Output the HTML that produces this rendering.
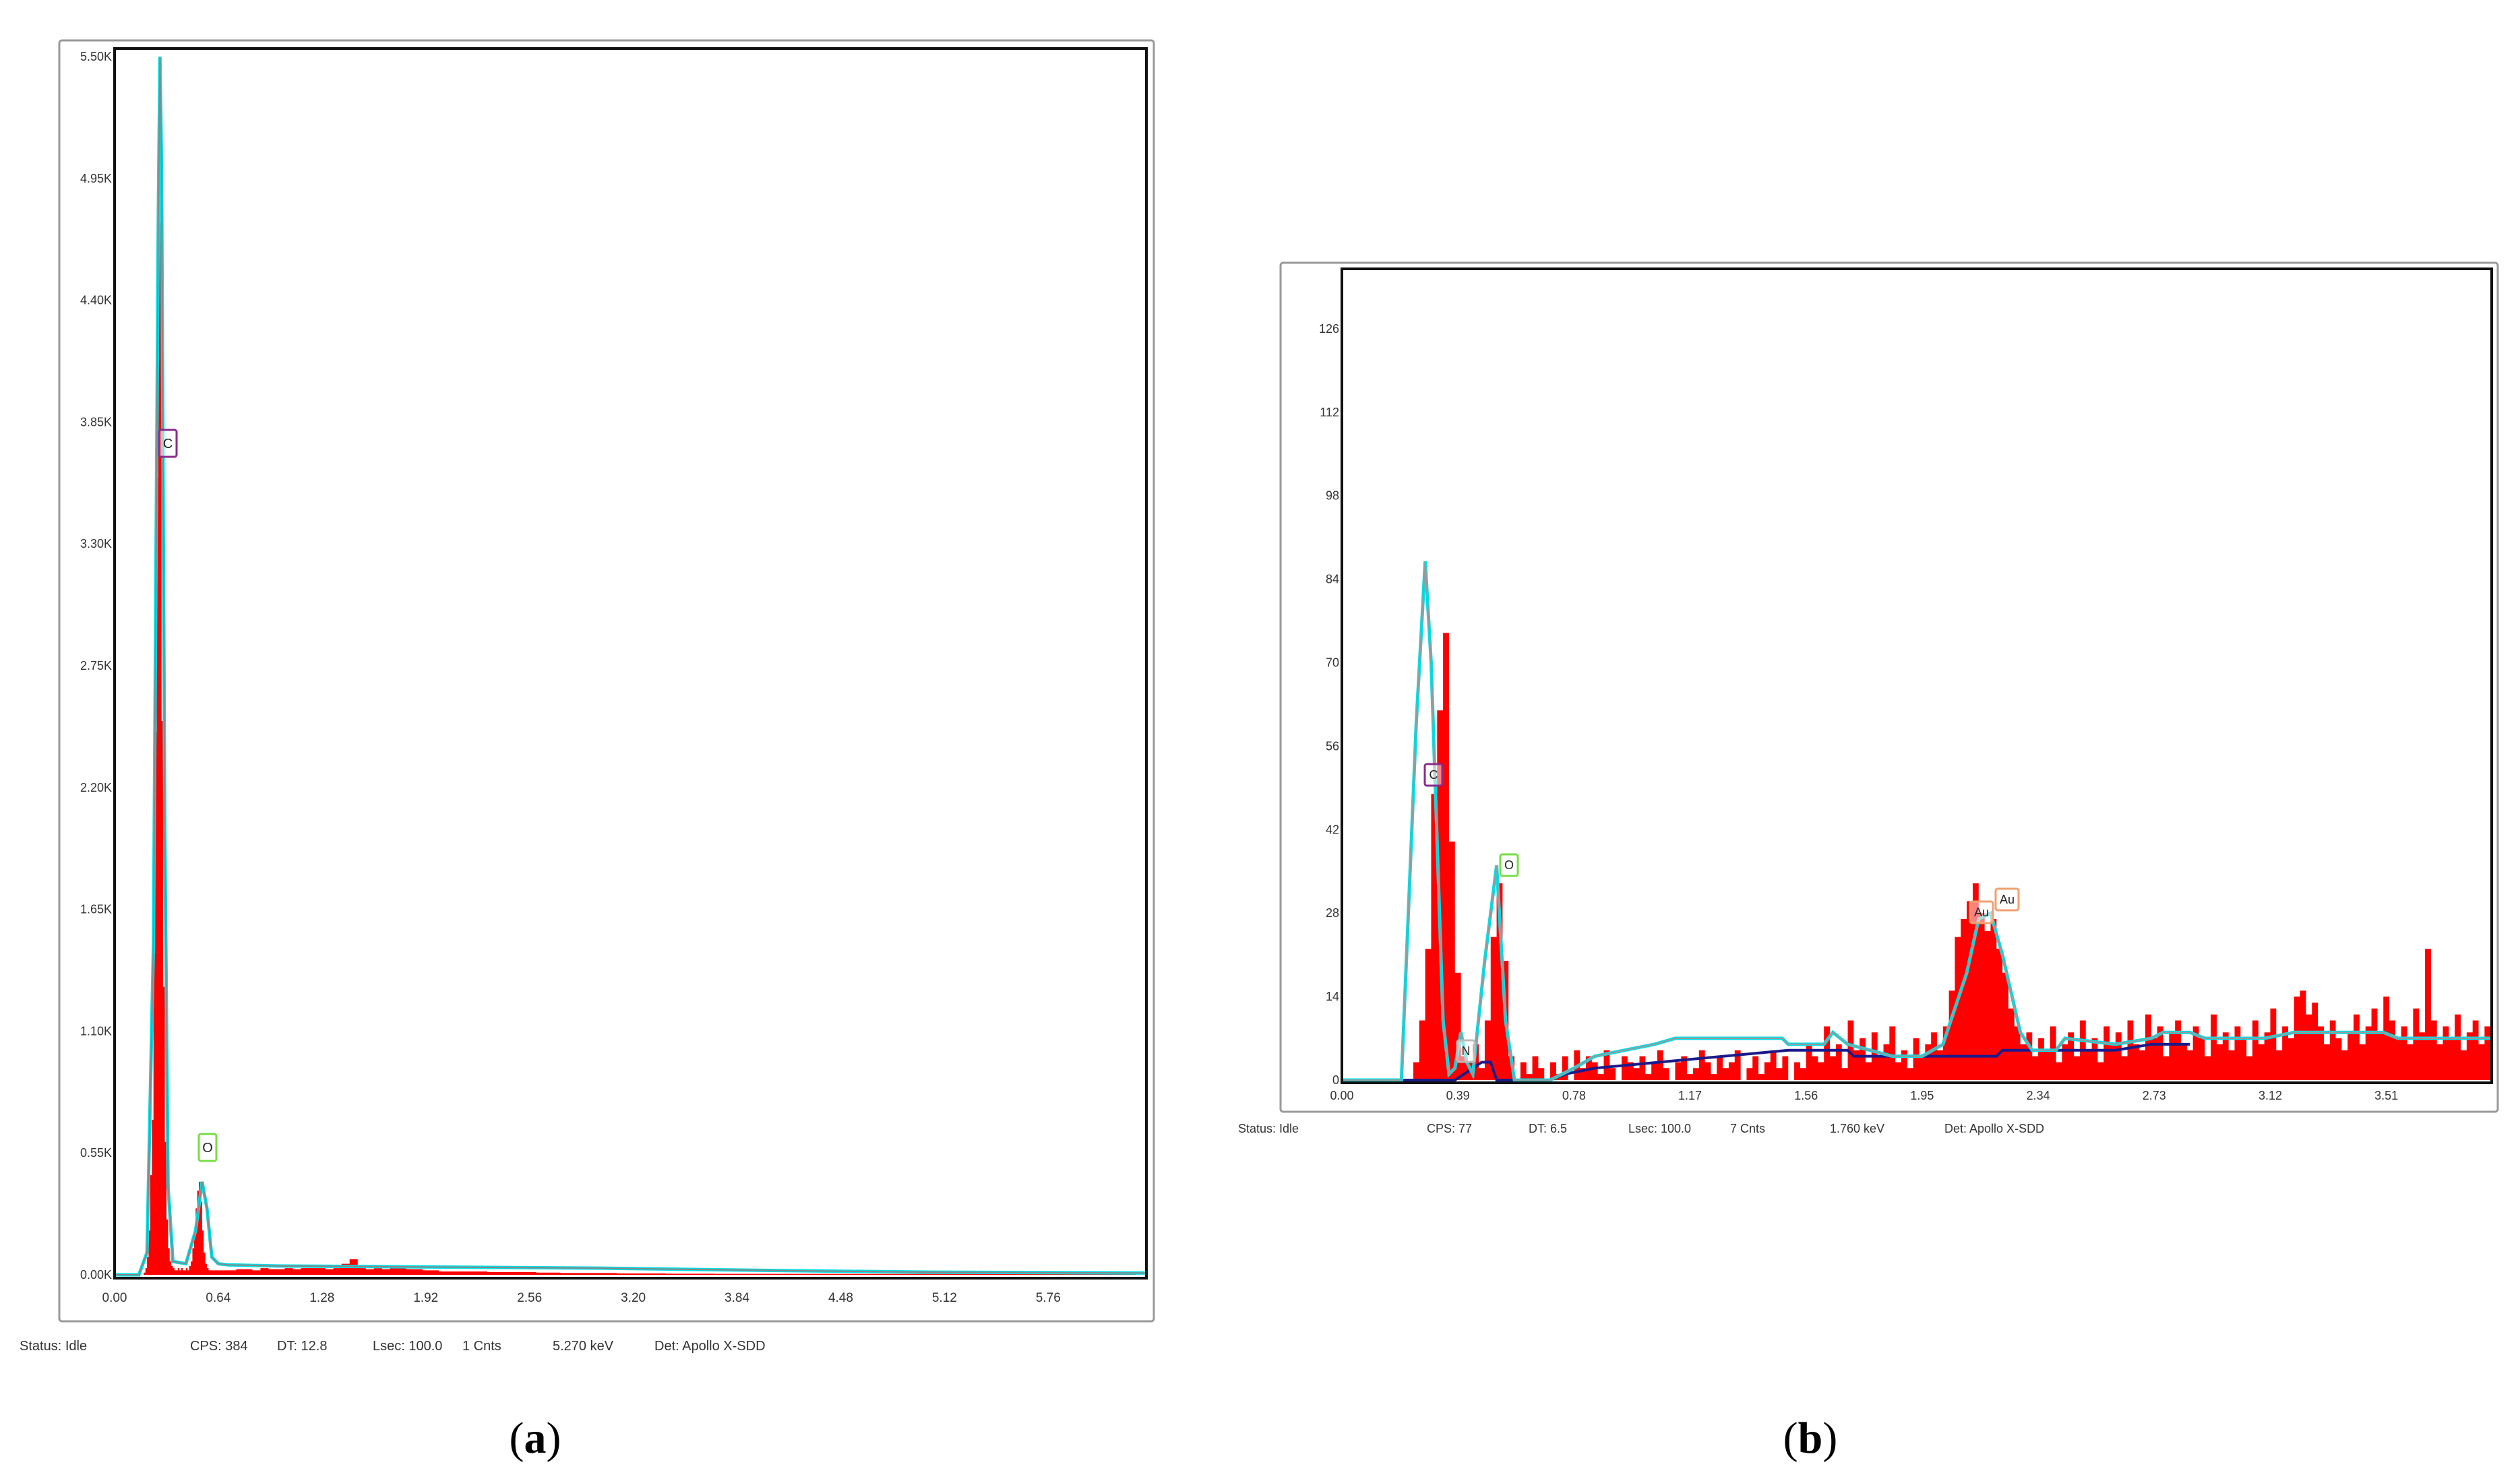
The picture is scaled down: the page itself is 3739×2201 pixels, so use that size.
<!DOCTYPE html>
<html><head><meta charset="utf-8">
<style>
html,body{margin:0;padding:0;background:#fff;}
body{width:3739px;height:2201px;overflow:hidden;position:relative;font-family:"Liberation Sans",sans-serif;}
svg{position:absolute;left:0;top:0;}
</style></head>
<body>
<svg id="chart" width="3739" height="2201" viewBox="0 0 3739 2201" xmlns="http://www.w3.org/2000/svg">
  <g id="panelA"></g>
  <g id="panelB"></g>
</svg>
<script>
// ---------- Panel A data ----------
const aTickY = ["0.00K","0.55K","1.10K","1.65K","2.20K","2.75K","3.30K","3.85K","4.40K","4.95K","5.50K"];
const aTickX = ["0.00","0.64","1.28","1.92","2.56","3.20","3.84","4.48","5.12","5.76"];
// red counts (K) from 0.18 keV, step 0.01
const aPeakStart = 0.18;
const aPeakCounts = [0.01,0.03,0.08,0.2,0.45,0.7,1.45,2.45,3.6,5.0,4.75,2.5,1.3,0.6,0.25,0.12,0.06,0.04,0.03,0.02,0.02,0.03,0.02,0.03,0.02,0.02,0.03,0.02,0.04,0.06,0.12,0.2,0.3,0.38,0.42,0.33,0.2,0.1,0.05,0.03,0.02,0.02];
// background red counts (K) from 0.60 keV, step 0.05
const aBgStart = 0.60;
const aBgCounts = [0.02,0.02,0.02,0.025,0.025,0.02,0.03,0.025,0.025,0.03,0.025,0.03,0.03,0.03,0.025,0.03,0.05,0.07,0.035,0.025,0.03,0.025,0.03,0.03,0.025,0.025,0.02,0.02,0.015,0.015,0.015,0.015,0.015,0.015,0.012,0.012,0.012,0.012,0.012,0.012,0.01,0.01,0.01,0.008,0.008,0.008,0.008,0.008,0.008,0.008,0.006,0.006,0.006,0.006,0.006,0.006,0.005,0.005,0.005,0.005,0.005,0.005,0.004,0.004,0.004,0.004,0.004,0.004,0.004,0.004,0.004,0.004,0.004,0.004,0.004,0.004,0.004,0.004,0.004,0.004,0.004,0.004,0.004,0.004,0.004,0.004,0.004,0.004,0.004,0.004,0.004,0.004,0.004,0.004,0.004,0.004,0.004,0.004,0.004,0.004,0.004,0.004,0.004,0.004,0.004,0.004,0.004,0.004,0.004,0.004,0.004,0.004,0.004,0.004];
const aFitE = [0,0.15,0.2,0.24,0.27,0.28,0.29,0.31,0.33,0.36,0.44,0.50,0.54,0.57,0.60,0.64,0.7,1.0,2.0,3.0,4.0,5.0,6.36];
const aFitK = [0,0,0.1,1.5,4.8,5.5,5.0,2.0,0.4,0.06,0.05,0.2,0.42,0.3,0.08,0.05,0.045,0.04,0.035,0.03,0.02,0.012,0.008];

// ---------- Panel B data ----------
const bTickY = ["0","14","28","42","56","70","84","98","112","126"];
const bTickX = ["0.00","0.39","0.78","1.17","1.56","1.95","2.34","2.73","3.12","3.51"];
const bStep = 0.02;
const bCounts = [
0,0,0,0,0,0,0,0,0,0,
0,0,3,10,22,48,62,75,40,18,
4,3,6,2,10,24,33,20,4,0,
3,1,4,2,0,3,1,4,0,5,
2,4,3,1,5,2,0,4,3,2,
4,1,3,5,2,0,3,4,1,2,
5,3,1,4,2,3,5,0,2,4,
1,3,5,2,4,0,3,2,6,4,
3,9,4,6,2,10,5,7,3,8,
4,6,9,3,5,2,7,4,6,8,
5,9,15,24,27,30,33,28,25,27,
22,18,12,9,6,8,4,7,5,9,
3,6,8,4,10,5,7,3,9,6,
8,4,10,6,5,11,7,9,4,8,
10,6,5,9,7,4,11,6,8,5,
9,7,4,10,6,8,12,5,9,7,
14,15,11,13,9,6,10,7,5,8,
11,6,9,12,8,14,10,7,9,6,
12,8,22,10,6,9,7,11,5,8,
10,6,9,8];
const bFitE = [0,0.2,0.25,0.28,0.30,0.34,0.36,0.38,0.40,0.42,0.44,0.48,0.52,0.55,0.58,0.70,0.78,0.85,0.95,1.05,1.12,1.48,1.50,1.62,1.65,1.70,1.85,1.95,2.02,2.10,2.14,2.18,2.22,2.28,2.32,2.40,2.43,2.60,2.72,2.76,2.85,2.90,3.10,3.20,3.50,3.55,3.86];
const bFitV = [0,0,60,87,70,10,1,2,8,3,1,20,36,10,0,0,2,4,5,6,7,7,6,6,8,6,4,4,6,18,27,28,21,8,5,5,7,6,7,8,8,7,7,8,8,7,7];
const bBgE = [0,0.38,0.44,0.47,0.50,0.52,0.70,0.75,0.85,1.5,1.52,1.70,1.72,2.00,2.20,2.22,2.60,2.72,2.85];
const bBgV = [0,0,2,3,3,0,0,1,2,5,5,5,4,4,4,5,5,6,6];

const NS="http://www.w3.org/2000/svg";
function mk(tag,attrs,parent){const e=document.createElementNS(NS,tag);for(const k in attrs)e.setAttribute(k,attrs[k]);parent.appendChild(e);return e;}

// ===== Panel A =====
(function(){
const g=document.getElementById('panelA');
const L=170,T=72,R=1701,B=1897;
const xA=e=>170+e*240.5;
const yA=k=>1892-k/0.55*180.8;
let f=mk('rect',{x:88,y:60,width:1624,height:1901,fill:'#fff',stroke:'#999',"stroke-width":3,rx:4},g);

const clip=mk('clipPath',{id:'clipA'},g);mk('rect',{x:L,y:T,width:R-L,height:B-T},clip);
const plot=mk('g',{'clip-path':'url(#clipA)'},g);

let d='';
aPeakCounts.forEach((v,i)=>{const e=aPeakStart+i*0.01;const x0=xA(e),x1=xA(e+0.01);d+=`M${x0},${yA(0)}V${yA(v)}H${x1}V${yA(0)}Z`;});
aBgCounts.forEach((v,i)=>{const e=aBgStart+i*0.05;const x0=xA(e),x1=xA(e+0.05);d+=`M${x0},${yA(0)}V${yA(v)}H${x1}V${yA(0)}Z`;});
let red=mk('path',{d:d,fill:'#f00'},plot);

let pts=aFitE.map((e,i)=>xA(e)+','+yA(aFitK[i])).join(' ');
let fit=mk('polyline',{points:pts,fill:'none',stroke:'#00e0e8','stroke-width':5},plot);

let gl=mk('polyline',{points:pts,fill:'none',stroke:'#888','stroke-width':2},plot);

mk('rect',{x:L,y:T,width:R-L,height:B-T,fill:'none',stroke:'#111','stroke-width':4},g);
aTickY.forEach((t,i)=>{const y=yA(i*0.55);const tx=mk('text',{x:L-4,y:y+6,'text-anchor':'end','font-size':18,fill:'#333'},g);tx.textContent=t;
});
aTickX.forEach((t,i)=>{const x=xA(i*0.64);const tx=mk('text',{x:x,y:1932,'text-anchor':'middle','font-size':19,fill:'#333'},g);tx.textContent=t;
});
const labs=[["C",249,658,'#8a2a8a'],["O",308,1703,'#77dd44']];
labs.forEach(l=>{const r=mk('rect',{x:l[1]-13,y:l[2]-20,width:26,height:40,fill:'#fff','fill-opacity':0.5,stroke:l[3],'stroke-width':3,rx:3},g);

const t=mk('text',{x:l[1],y:l[2]+7,'text-anchor':'middle','font-size':20,fill:'#222'},g);t.textContent=l[0];
});
const st=[["Status: Idle",29],["CPS: 384",282],["DT: 12.8",411],["Lsec: 100.0",553],["1 Cnts",686],["5.270 keV",820],["Det: Apollo X-SDD",971]];
st.forEach(s=>{const t=mk('text',{x:s[1],y:2004,'font-size':20,fill:'#333'},g);t.textContent=s[0];
});
const c=mk('text',{x:794,y:2156,'text-anchor':'middle','font-size':66,'font-family':'Liberation Serif, serif',fill:'#000'},g);
c.innerHTML='(<tspan font-weight="bold">a</tspan>)';

})();

// ===== Panel B =====
(function(){
const g=document.getElementById('panelB');
const L=1991,T=399,R=3697,B=1607;
const xB=e=>1991+e*441.5;
const yB=v=>1603-v/14*123.9;
let f=mk('rect',{x:1900,y:390,width:1806,height:1260,fill:'#fff',stroke:'#999',"stroke-width":3,rx:4},g);

const clip=mk('clipPath',{id:'clipB'},g);mk('rect',{x:L,y:T,width:R-L,height:B-T},clip);
const plot=mk('g',{'clip-path':'url(#clipB)'},g);

let d='';
bCounts.forEach((v,i)=>{const e=i*bStep;const x0=xB(e),x1=xB(e+bStep);d+=`M${x0},${yB(0)}V${yB(v)}H${x1}V${yB(0)}Z`;});
let red=mk('path',{d:d,fill:'#f00'},plot);

let bp=bBgE.map((e,i)=>xB(e)+','+yB(bBgV[i])).join(' ');
let bl=mk('polyline',{points:bp,fill:'none',stroke:'#1a1a8a','stroke-width':4},plot);

let pts=bFitE.map((e,i)=>xB(e)+','+yB(bFitV[i])).join(' ');
let fit=mk('polyline',{points:pts,fill:'none',stroke:'#00e0e8','stroke-width':5},plot);

let gl=mk('polyline',{points:pts,fill:'none',stroke:'#999','stroke-width':2},plot);

mk('rect',{x:L,y:T,width:R-L,height:B-T,fill:'none',stroke:'#111','stroke-width':4},g);
bTickY.forEach((t,i)=>{const y=yB(i*14);const tx=mk('text',{x:L-4,y:y+6,'text-anchor':'end','font-size':18,fill:'#333'},g);tx.textContent=t;
});
bTickX.forEach((t,i)=>{const x=xB(i*0.39);const tx=mk('text',{x:x,y:1632,'text-anchor':'middle','font-size':18,fill:'#333'},g);tx.textContent=t;
});
const labs=[["C",2127,1150,'#8a2a8a',26],["O",2239,1284,'#77dd44',26],["N",2175,1560,'#bbb',26],["Au",2940,1354,'#f0a070',34],["Au",2978,1335,'#f0a070',34]];
labs.forEach(l=>{const r=mk('rect',{x:l[1]-l[4]/2,y:l[2]-16,width:l[4],height:32,fill:'#fff','fill-opacity':0.5,stroke:l[3],'stroke-width':3,rx:3},g);

const t=mk('text',{x:l[1],y:l[2]+6,'text-anchor':'middle','font-size':18,fill:'#222'},g);t.textContent=l[0];
});
const st=[["Status: Idle",1837],["CPS: 77",2117],["DT: 6.5",2268],["Lsec: 100.0",2416],["7 Cnts",2567],["1.760 keV",2715],["Det: Apollo X-SDD",2885]];
st.forEach(s=>{const t=mk('text',{x:s[1],y:1681,'font-size':18,fill:'#333'},g);t.textContent=s[0];
});
const c=mk('text',{x:2686,y:2156,'text-anchor':'middle','font-size':66,'font-family':'Liberation Serif, serif',fill:'#000'},g);
c.innerHTML='(<tspan font-weight="bold">b</tspan>)';

})();
</script>
</body></html>
